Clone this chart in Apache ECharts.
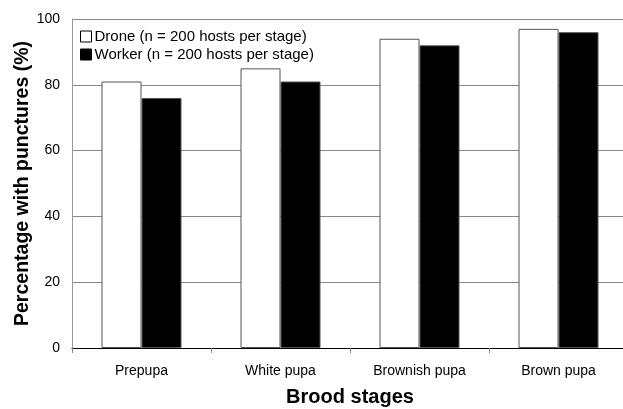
<!DOCTYPE html>
<html>
<head>
<meta charset="utf-8">
<script src="https://cdn.jsdelivr.net/npm/echarts@6/dist/echarts.min.js"></script>
<style>html,body{margin:0;padding:0;background:#fff;}#c{width:623px;height:409px;}</style>
</head>
<body>
<div id="c"></div>
<script>
var categories = ['Prepupa', 'White pupa', 'Brownish pupa', 'Brown pupa'];
var droneValues = [81, 85, 94, 97];
var workerValues = [76, 81, 92, 96];
var seriesNames = ['Drone (n = 200 hosts per stage)', 'Worker (n = 200 hosts per stage)'];
var yTicks = [0, 20, 40, 60, 80, 100];

var font = 'Liberation Sans, Arial, sans-serif';
var chart = echarts.init(document.getElementById('c'), null, {renderer: 'canvas'});
chart.setOption({
  animation: false,
  backgroundColor: '#fff',
  textStyle: {fontFamily: font},
  grid: {left: 72, right: -5, top: 19, bottom: 61, containLabel: false, outerBoundsMode: 'none'},
  legend: {
    orient: 'vertical',
    left: 80, top: 29,
    padding: 0,
    itemWidth: 11, itemHeight: 11, itemGap: 3,
    icon: 'rect',
    textStyle: {fontFamily: font, fontSize: 15, color: '#000', padding: [0, 0, 0, -2]},
    data: [
      {name: seriesNames[0], itemStyle: {color: '#fff', borderColor: '#000', borderWidth: 1}},
      {name: seriesNames[1], itemStyle: {color: '#000', borderColor: '#000', borderWidth: 1}}
    ]
  },
  xAxis: {
    type: 'category',
    data: categories,
    name: 'Brood stages',
    nameLocation: 'middle',
    nameGap: 39,
    nameMoveOverlap: false,
    nameTextStyle: {fontFamily: font, fontSize: 20, fontWeight: 'bold', color: '#000'},
    axisLine: {show: true, lineStyle: {color: '#000', width: 1}},
    axisTick: {show: true, length: 5, lineStyle: {color: '#888'}},
    axisLabel: {fontFamily: font, fontSize: 14, color: '#000', margin: 16},
    splitLine: {show: false}
  },
  yAxis: {
    type: 'value',
    min: yTicks[0], max: yTicks[yTicks.length - 1], interval: 20,
    name: 'Percentage with punctures (%)',
    nameLocation: 'middle',
    nameGap: 39,
    nameMoveOverlap: false,
    nameRotate: 90,
    nameTextStyle: {fontFamily: font, fontSize: 19.5, fontWeight: 'bold', color: '#000'},
    axisLine: {show: true, lineStyle: {color: '#999', width: 1}},
    axisTick: {show: false},
    axisLabel: {fontFamily: font, fontSize: 14, color: '#000', margin: 12},
    splitLine: {show: true, lineStyle: {color: '#888', width: 1}}
  },
  series: [
    {
      name: seriesNames[0], type: 'bar', data: droneValues,
      barWidth: 40, barGap: '0%',
      itemStyle: {color: '#fff', borderColor: '#555', borderWidth: 1}
    },
    {
      name: seriesNames[1], type: 'bar', data: workerValues,
      barWidth: 40, barGap: '0%',
      itemStyle: {color: '#000', borderColor: '#555', borderWidth: 1}
    }
  ]
});
</script>
</body>
</html>
